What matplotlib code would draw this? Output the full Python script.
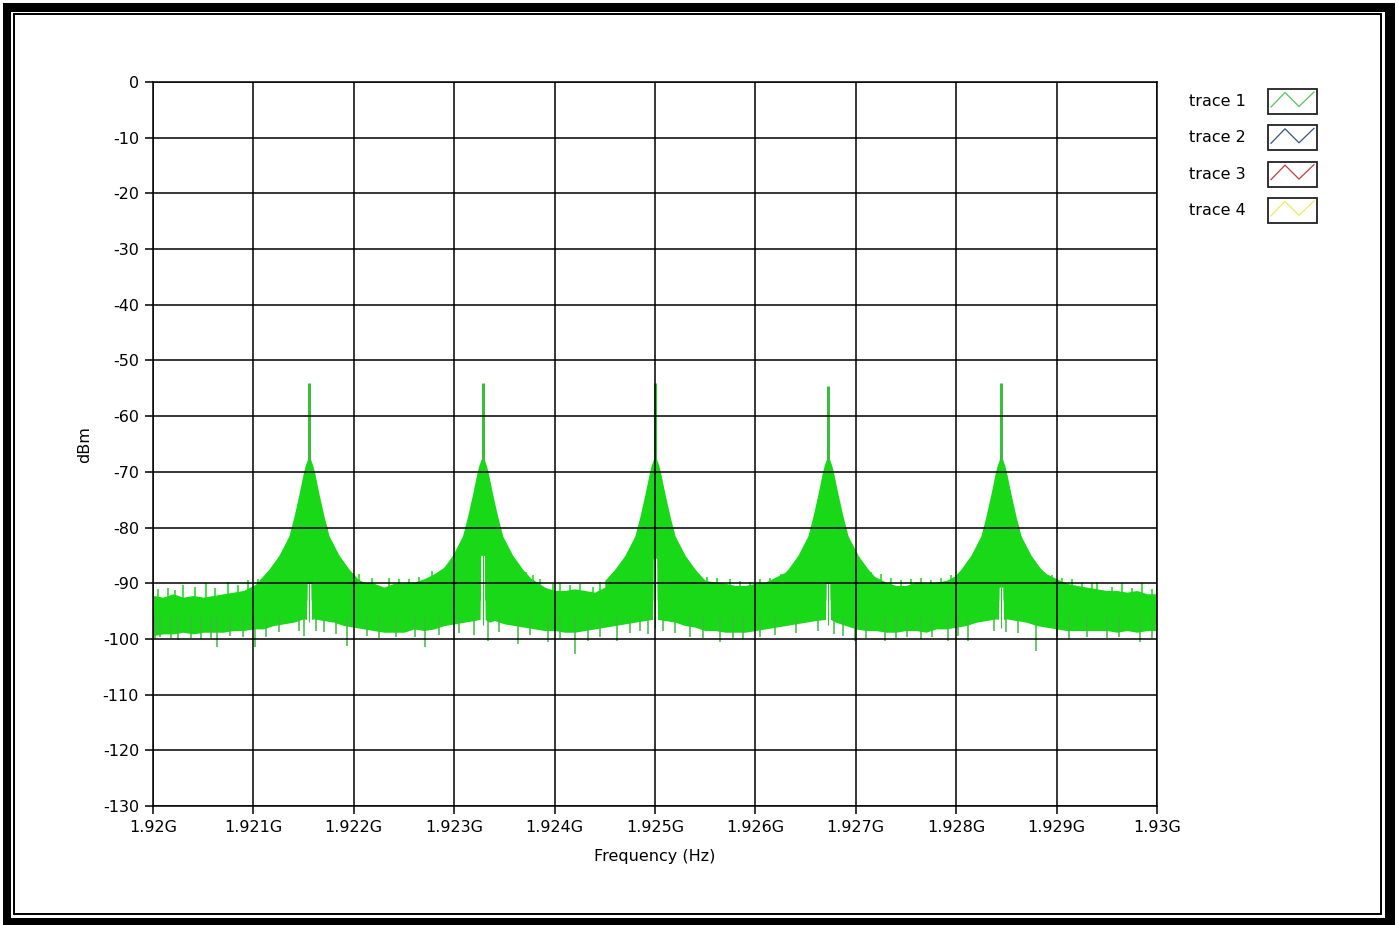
import numpy as np
import matplotlib.pyplot as plt
from matplotlib.patches import Rectangle

W, H = 1398, 925
GREEN = '#18d818'
DARK_GREEN = '#3cbc3c'
FS = 11.5

# noise band, frequency offsets in MHz above 1.92 GHz, top and bottom edge in dBm
band_f = [0.0, 0.1, 0.2, 0.3, 0.4, 0.5, 0.6, 0.7, 0.8, 0.9, 1.0, 1.1, 1.2, 1.3, 1.4, 1.5,
          1.529, 1.534, 1.574, 1.579,
          1.6, 1.7, 1.8, 1.9, 2.0, 2.1, 2.2, 2.3, 2.4, 2.5, 2.6, 2.7, 2.8, 2.9, 3.0, 3.1, 3.2,
          3.258, 3.263, 3.303, 3.308,
          3.35, 3.4, 3.5, 3.6, 3.7, 3.8, 3.9, 4.0, 4.1, 4.2, 4.3, 4.4, 4.5, 4.6, 4.7, 4.8, 4.9,
          4.975, 4.98, 5.02, 5.025,
          5.1, 5.2, 5.3, 5.4, 5.5, 5.6, 5.7, 5.8, 5.9, 6.0, 6.1, 6.2, 6.3, 6.4, 6.5, 6.6,
          6.698, 6.703, 6.743, 6.748,
          6.8, 6.9, 7.0, 7.1, 7.2, 7.3, 7.4, 7.5, 7.6, 7.7, 7.8, 7.9, 8.0, 8.1, 8.2, 8.3, 8.4,
          8.421, 8.426, 8.466, 8.471,
          8.5, 8.6, 8.7, 8.8, 8.9, 9.0, 9.1, 9.2, 9.3, 9.4, 9.5, 9.6, 9.7, 9.8, 9.9, 10.0]
band_top = [-92.2, -92.5, -91.9, -92.5, -92.2, -92.5, -92.2, -91.9, -91.6, -91.3, -90.4, -89.2, -88.3, -86.8, -84.7, -84.0,
            -83.0, -90.0, -90.0, -83.0,
            -84.0, -83.5, -85.3, -87.1, -88.9, -89.8, -90.0, -90.7, -90.0, -90.0, -89.8, -89.2, -88.3, -87.1, -85.3, -83.5, -83.0,
            -83.0, -85.0, -85.0, -83.0,
            -83.0, -83.2, -85.0, -87.7, -88.6, -89.5, -90.7, -91.3, -91.3, -91.0, -91.3, -91.6, -90.7, -89.2, -87.4, -85.6, -83.2,
            -83.0, -85.5, -85.5, -83.0,
            -83.5, -85.6, -87.7, -88.9, -89.5, -89.8, -90.0, -90.4, -90.4, -90.0, -89.8, -88.9, -88.0, -86.8, -85.0, -83.2,
            -83.0, -90.0, -90.0, -83.0,
            -83.5, -85.3, -87.7, -88.6, -88.9, -89.8, -90.4, -90.4, -89.8, -90.0, -89.8, -89.5, -88.6, -87.4, -85.0, -82.9, -83.0,
            -83.0, -90.7, -90.7, -83.0,
            -83.0, -83.2, -85.0, -86.8, -88.3, -89.2, -90.0, -90.4, -90.7, -91.0, -91.3, -91.3, -91.6, -91.3, -91.9, -91.9]
band_bot = [-99.4, -99.1, -99.1, -98.8, -99.1, -98.8, -98.8, -98.8, -98.5, -98.5, -98.2, -98.2, -97.6, -97.3, -97.0, -96.4,
            -96.5, -90.0, -90.0, -96.5,
            -96.4, -96.7, -97.0, -97.6, -97.9, -98.2, -98.5, -98.8, -98.8, -98.8, -98.2, -98.5, -98.2, -97.6, -97.3, -97.0, -96.7,
            -96.5, -85.0, -85.0, -96.5,
            -97.0, -96.7, -97.3, -97.6, -97.9, -98.2, -98.5, -98.5, -98.8, -98.8, -98.5, -98.2, -97.9, -97.6, -97.3, -97.0, -96.7,
            -96.5, -85.5, -85.5, -96.5,
            -96.7, -97.0, -97.6, -97.9, -98.5, -98.5, -98.8, -98.8, -98.8, -98.5, -98.2, -97.9, -97.6, -97.3, -97.0, -96.7,
            -96.5, -90.0, -90.0, -96.5,
            -97.0, -97.6, -98.2, -98.5, -98.5, -98.8, -98.8, -98.5, -98.5, -98.8, -98.2, -98.2, -97.9, -97.6, -97.0, -96.7, -96.4,
            -96.5, -90.7, -90.7, -96.5,
            -96.4, -96.7, -97.0, -97.6, -97.9, -98.2, -98.5, -98.5, -98.5, -98.5, -98.5, -98.8, -98.5, -98.8, -98.5, -98.5]

# carriers
peak_f = [1.554, 3.283, 5.0, 6.723, 8.446]
peak_top = [-54.1, -54.1, -54.1, -54.5, -54.1]
notch_db = [-90.0, -85.0, -85.5, -90.0, -90.7]
notch_floor = [-97.0, -97.5, -98.0, -97.5, -98.0]

# skirt around each carrier (offset MHz, top dBm)
skirt_off = [-0.5, -0.4, -0.3, -0.2, -0.15, -0.1, -0.06, -0.04, -0.021, -0.02, 0.0,
             0.02, 0.021, 0.04, 0.06, 0.1, 0.15, 0.2, 0.3, 0.4, 0.5]
skirt_top = [-89.5, -87.5, -85.0, -81.5, -78.0, -74.0, -70.5, -69.0, -68.0, -67.9, -67.5,
             -67.9, -68.0, -69.0, -70.5, -74.0, -78.0, -81.5, -85.0, -87.5, -89.5]

# isolated noise spikes below and above the band
dip_f = [0.02, 0.07, 0.18, 0.25, 0.38, 0.48, 0.58, 0.634, 0.77, 0.9, 1.016, 1.13, 1.25, 1.45, 1.5,
         1.62, 1.7, 1.82, 1.93, 2.13, 2.25, 2.42, 2.61, 2.71, 2.85, 3.05, 3.2, 3.34, 3.45, 3.64,
         3.75, 3.93, 4.05, 4.2, 4.33, 4.45, 4.62, 4.75, 4.85, 4.93, 5.08, 5.2, 5.35, 5.48, 5.65,
         5.78, 5.88, 6.05, 6.2, 6.4, 6.62, 6.78, 6.87, 6.99, 7.1, 7.29, 7.4, 7.51, 7.65, 7.76,
         7.92, 8.02, 8.12, 8.38, 8.5, 8.62, 8.79, 9.0, 9.12, 9.3, 9.5, 9.62, 9.83, 9.95]
dip_db = [-100.0, -99.7, -99.9, -100.2, -99.8, -100.0, -99.9, -101.5, -99.4, -99.6, -101.5, -99.7, -98.8, -98.6, -99.5,
          -98.5, -98.8, -99.2, -101.2, -99.4, -99.8, -99.7, -99.7, -101.5, -99.3, -98.9, -99.3, -100.3, -98.8, -100.9,
          -99.3, -100.6, -99.8, -102.7, -100.3, -99.6, -100.3, -98.9, -98.5, -99.1, -98.6, -99.0, -99.7, -99.9, -100.6,
          -99.8, -100.0, -99.7, -99.3, -99.0, -98.6, -99.2, -99.4, -100.3, -99.8, -100.3, -99.9, -99.7, -100.0, -99.7,
          -100.3, -99.5, -100.3, -98.6, -98.8, -99.0, -102.1, -99.6, -100.0, -99.7, -99.9, -99.7, -100.6, -99.8]
bump_f = [0.05, 0.15, 0.22, 0.3, 0.42, 0.53, 0.62, 0.75, 0.85, 0.95, 1.05, 1.18, 2.05, 2.18, 2.35,
          2.45, 2.55, 2.65, 2.78, 3.72, 3.78, 3.85, 3.98, 4.05, 4.15, 4.25, 4.38, 4.45, 4.52, 4.58,
          5.42, 5.52, 5.62, 5.75, 5.85, 5.95, 6.05, 6.15, 6.25, 7.05, 7.15, 7.25, 7.35, 7.45, 7.55,
          7.65, 7.75, 7.85, 7.95, 8.95, 9.05, 9.15, 9.25, 9.35, 9.4, 9.55, 9.65, 9.75, 9.85, 9.95]
bump_db = [-91.0, -90.8, -91.2, -90.3, -90.6, -90.0, -90.9, -89.8, -90.3, -89.5, -89.3, -88.0, -88.3, -89.0, -89.0,
           -89.3, -89.3, -88.8, -87.8, -88.0, -88.6, -89.3, -90.2, -90.0, -90.4, -90.2, -90.6, -89.8, -89.6, -88.6,
           -88.3, -88.8, -89.0, -89.3, -89.6, -89.8, -89.2, -89.0, -88.3, -87.3, -88.0, -88.4, -89.0, -89.4, -89.2,
           -89.1, -89.5, -89.0, -88.6, -88.5, -89.0, -89.2, -89.8, -90.0, -89.8, -90.6, -90.0, -90.8, -89.9, -91.0]

xtick_mhz = [0, 1, 2, 3, 4, 5, 6, 7, 8, 9, 10]
xtick_labels = ['1.92G', '1.921G', '1.922G', '1.923G', '1.924G', '1.925G',
                '1.926G', '1.927G', '1.928G', '1.929G', '1.93G']
ytick_vals = [0, -10, -20, -30, -40, -50, -60, -70, -80, -90, -100, -110, -120, -130]
ytick_labels = ['0', '-10', '-20', '-30', '-40', '-50', '-60', '-70', '-80', '-90',
                '-100', '-110', '-120', '-130']
legend_names = ['trace 1', 'trace 2', 'trace 3', 'trace 4']
legend_colors = ['#55c455', '#3c4f8c', '#c43a48', '#ecec60']


def hz(f):
    return 1.92e9 + np.asarray(f, dtype=float) * 1e6


fig = plt.figure(figsize=(W / 100, H / 100), dpi=100)

# frame and legend drawn on an overlay in pixel coordinates
ov = fig.add_axes([0, 0, 1, 1])
ov.set_zorder(0)
ov.set_xlim(0, W)
ov.set_ylim(H, 0)
ov.axis('off')
ov.add_patch(Rectangle((3, 3), 1392, 922, fc='black', ec='none'))
ov.add_patch(Rectangle((11, 12), 1374, 906, fc='white', ec='none'))
ov.add_patch(Rectangle((13.8, 14.3), 1367.5, 899.5, fc='none', ec='black', lw=1.4))

for i, (name, col) in enumerate(zip(legend_names, legend_colors)):
    y0 = 89 + 36.3 * i
    ov.text(1189, y0 + 12.5, name, fontsize=FS, ha='left', va='center')
    ov.add_patch(Rectangle((1268, y0), 49, 25, fc='white', ec='#222222', lw=1.3))
    ov.plot([1271, 1285, 1299, 1314], [y0 + 18, y0 + 3.5, y0 + 17.5, y0 + 3], color=col, lw=0.9)

ov.text(85, 445, 'dBm', rotation=90, fontsize=FS, ha='center', va='center')
ov.text(655, 856, 'Frequency (Hz)', fontsize=FS, ha='center', va='center')

ax = fig.add_axes([153 / W, 1 - 806 / H, 1004 / W, 724 / H])
ax.set_zorder(1)

ax.fill_between(hz(band_f), band_bot, band_top, color=GREEN, lw=0)
for c, n in zip(peak_f, notch_db):
    off = np.array(skirt_off)
    lower = np.where(np.abs(off) <= 0.02, n, -93.0)
    ax.fill_between(hz(c + off), lower, skirt_top, color=GREEN, lw=0)
ax.vlines(hz(peak_f), -68, peak_top, color=DARK_GREEN, lw=2.2)
ax.vlines(hz(peak_f), notch_floor, notch_db, color=DARK_GREEN, lw=0.8)
ax.vlines(hz(dip_f), -96, dip_db, color=DARK_GREEN, lw=1.1)
ax.vlines(hz(bump_f), -93, bump_db, color=GREEN, lw=1.1)

ax.set_xlim(hz(0), hz(10))
ax.set_ylim(-130, 0)
ax.set_xticks(hz(xtick_mhz))
ax.set_xticklabels(xtick_labels)
ax.set_yticks(ytick_vals)
ax.set_yticklabels(ytick_labels)
ax.set_axisbelow(False)
ax.grid(True, color='black', lw=1.1)
for s in ax.spines.values():
    s.set_linewidth(1.1)
ax.tick_params(direction='out', length=6, width=1.1, pad=4, labelsize=FS, colors='black')

fig.savefig('out.png', dpi=100)
